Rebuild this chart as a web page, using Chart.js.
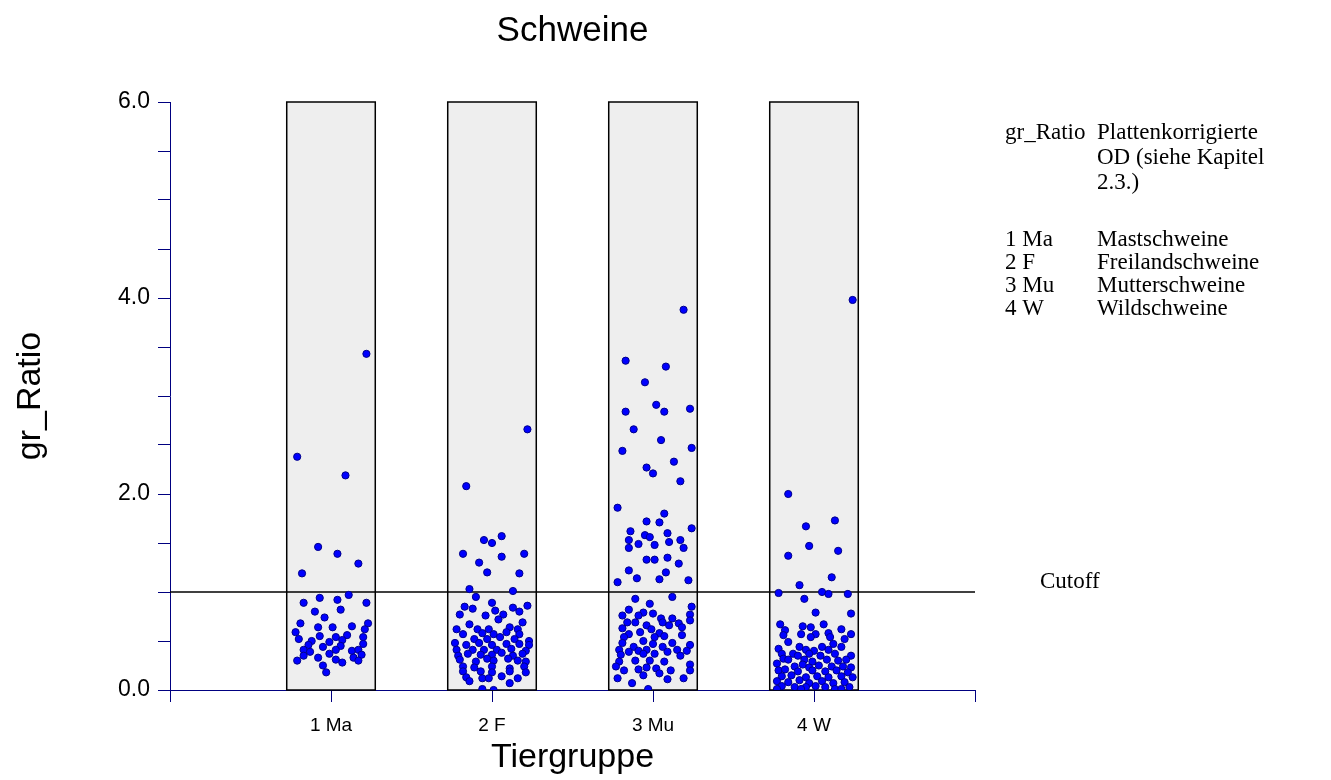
<!DOCTYPE html>
<html>
<head>
<meta charset="utf-8">
<title>Schweine</title>
<script src="https://cdn.jsdelivr.net/npm/chart.js@4.4.1/dist/chart.umd.min.js"></script>
<style>
    html, body { margin: 0; padding: 0; background: #fff; }
    #wrap { width: 1331px; height: 780px; }
</style>
</head>
<body>
<div id="wrap"><canvas id="chart" width="1331" height="780"></canvas></div>
<script>
// ===== Data =====
const groupLabels = ["1 Ma", "2 F", "3 Mu", "4 W"];
const yTickLabels = ["0.0", "2.0", "4.0", "6.0"];
const boxTop = [6, 6, 6, 6];
const boxHalfWidth = 0.275;
const cutoffValue = 1.0;

// [jitter offset from group centre, gr_Ratio]
const maPoints = [
    [0.22, 3.43], [-0.21, 2.38], [0.09, 2.19], [-0.08, 1.46], [0.04, 1.39], [0.17, 1.29], [-0.18, 1.19],
    [0.11, 0.97], [-0.07, 0.94], [0.04, 0.92], [-0.17, 0.89], [0.22, 0.89], [0.06, 0.82], [-0.10, 0.80],
    [-0.04, 0.74], [-0.19, 0.68], [0.23, 0.68], [-0.08, 0.64], [0.01, 0.64], [0.13, 0.65], [0.21, 0.62],
    [-0.22, 0.59], [0.10, 0.56], [-0.07, 0.55], [-0.20, 0.52], [0.03, 0.54], [0.20, 0.54], [-0.12, 0.50],
    [0.07, 0.51], [-0.01, 0.49], [-0.14, 0.46], [0.20, 0.47], [-0.05, 0.44], [0.06, 0.45], [-0.17, 0.41],
    [0.03, 0.41], [-0.13, 0.39], [0.13, 0.40], [0.17, 0.41], [-0.01, 0.37], [-0.17, 0.35], [0.19, 0.36],
    [0.14, 0.33], [-0.08, 0.33], [-0.21, 0.30], [0.03, 0.31], [0.17, 0.30], [0.07, 0.28], [-0.05, 0.25],
    [-0.03, 0.18]
];
const fPoints = [
    [0.22, 2.66], [-0.16, 2.08], [0.06, 1.57], [-0.05, 1.53], [0.00, 1.50], [-0.18, 1.39], [0.20, 1.39],
    [0.06, 1.36], [-0.08, 1.30], [-0.03, 1.20], [0.17, 1.19], [-0.14, 1.03], [0.13, 1.01], [-0.10, 0.95],
    [0.00, 0.89], [-0.17, 0.85], [-0.12, 0.83], [0.13, 0.84], [0.22, 0.86], [0.17, 0.80], [0.02, 0.81],
    [-0.20, 0.77], [-0.04, 0.76], [0.07, 0.77], [0.04, 0.72], [0.19, 0.69], [-0.14, 0.67], [-0.22, 0.62],
    [-0.09, 0.62], [-0.02, 0.62], [0.11, 0.64], [0.16, 0.62], [-0.18, 0.57], [-0.06, 0.58], [0.01, 0.57],
    [0.09, 0.59], [0.17, 0.57], [-0.11, 0.52], [-0.03, 0.52], [0.05, 0.54], [0.14, 0.52], [0.23, 0.50],
    [-0.23, 0.48], [-0.16, 0.46], [-0.08, 0.48], [0.00, 0.46], [0.09, 0.47], [0.17, 0.47], [0.23, 0.46],
    [-0.22, 0.41], [-0.12, 0.41], [-0.05, 0.41], [0.03, 0.41], [0.12, 0.42], [0.21, 0.40], [-0.21, 0.35],
    [-0.15, 0.37], [-0.07, 0.36], [0.00, 0.36], [0.06, 0.38], [0.13, 0.35], [0.19, 0.37], [-0.20, 0.31],
    [-0.10, 0.29], [-0.03, 0.32], [0.01, 0.30], [0.10, 0.32], [0.16, 0.30], [0.21, 0.29], [-0.18, 0.24],
    [-0.11, 0.23], [0.00, 0.24], [0.11, 0.22], [0.20, 0.24], [-0.18, 0.19], [-0.07, 0.19], [0.00, 0.18],
    [0.11, 0.19], [0.21, 0.18], [-0.16, 0.13], [-0.06, 0.12], [-0.02, 0.12], [0.06, 0.14], [0.16, 0.12],
    [-0.14, 0.09], [0.11, 0.07], [-0.06, 0.01], [0.01, 0.00]
];
const muPoints = [
    [0.19, 3.88], [-0.17, 3.36], [0.08, 3.30], [-0.05, 3.14], [0.02, 2.91], [-0.17, 2.84], [0.07, 2.84],
    [0.23, 2.87], [-0.12, 2.66], [0.05, 2.55], [-0.19, 2.44], [0.24, 2.47], [0.13, 2.33], [-0.04, 2.27],
    [0.00, 2.21], [0.17, 2.13], [-0.22, 1.86], [0.07, 1.80], [-0.04, 1.72], [0.04, 1.71], [0.24, 1.65],
    [-0.14, 1.62], [0.09, 1.60], [-0.05, 1.58], [-0.02, 1.56], [-0.15, 1.53], [0.17, 1.53], [0.10, 1.51],
    [-0.09, 1.49], [0.01, 1.48], [-0.15, 1.45], [0.19, 1.45], [0.09, 1.35], [-0.04, 1.33], [0.01, 1.33],
    [0.16, 1.29], [-0.15, 1.22], [0.08, 1.20], [-0.10, 1.14], [0.04, 1.13], [-0.22, 1.10], [0.22, 1.12],
    [-0.11, 0.93], [0.12, 0.95], [-0.02, 0.88], [-0.15, 0.82], [0.24, 0.85], [-0.06, 0.79], [-0.19, 0.76],
    [-0.09, 0.76], [0.00, 0.78], [0.23, 0.77], [0.05, 0.73], [0.12, 0.73], [-0.16, 0.69], [-0.11, 0.69],
    [0.06, 0.69], [0.16, 0.68], [0.23, 0.71], [-0.04, 0.66], [0.10, 0.66], [-0.19, 0.63], [-0.01, 0.62],
    [0.18, 0.64], [-0.08, 0.59], [0.04, 0.58], [-0.15, 0.57], [-0.18, 0.54], [0.01, 0.54], [0.07, 0.55],
    [0.18, 0.56], [-0.06, 0.50], [0.12, 0.48], [0.23, 0.46], [-0.19, 0.48], [0.00, 0.47], [-0.12, 0.44],
    [0.06, 0.44], [-0.21, 0.41], [-0.04, 0.41], [0.15, 0.41], [0.21, 0.40], [-0.15, 0.39], [-0.09, 0.40],
    [0.09, 0.39], [-0.20, 0.36], [-0.06, 0.37], [0.01, 0.37], [0.17, 0.35], [-0.11, 0.30], [-0.02, 0.30],
    [0.07, 0.29], [-0.21, 0.29], [0.23, 0.26], [-0.23, 0.24], [-0.09, 0.21], [-0.04, 0.23], [0.02, 0.22],
    [0.11, 0.20], [-0.18, 0.20], [0.23, 0.20], [-0.06, 0.15], [0.04, 0.17], [-0.22, 0.12], [0.09, 0.11],
    [0.19, 0.12], [-0.13, 0.07], [-0.03, 0.01]
];
const wPoints = [
    [0.24, 3.98], [-0.16, 2.00], [0.13, 1.73], [-0.05, 1.67], [-0.03, 1.47], [0.15, 1.42], [-0.16, 1.37],
    [0.11, 1.15], [-0.09, 1.07], [-0.22, 0.99], [0.05, 1.00], [0.09, 0.98], [0.21, 0.98], [-0.06, 0.93],
    [0.01, 0.79], [0.23, 0.78], [-0.21, 0.67], [-0.07, 0.65], [-0.02, 0.64], [0.06, 0.67], [0.17, 0.62],
    [-0.18, 0.61], [-0.08, 0.57], [0.01, 0.57], [0.09, 0.58], [0.23, 0.57], [-0.19, 0.56], [-0.02, 0.54],
    [0.10, 0.54], [0.19, 0.52], [-0.16, 0.49], [0.12, 0.47], [-0.09, 0.44], [0.05, 0.44], [-0.22, 0.42],
    [-0.05, 0.41], [0.00, 0.40], [0.09, 0.41], [0.17, 0.44], [-0.20, 0.37], [-0.13, 0.37], [-0.10, 0.35],
    [-0.03, 0.37], [0.04, 0.35], [0.13, 0.37], [0.23, 0.35], [-0.19, 0.32], [-0.16, 0.31], [-0.06, 0.31],
    [-0.01, 0.29], [0.08, 0.31], [0.15, 0.30], [0.20, 0.31], [-0.23, 0.27], [-0.12, 0.24], [-0.07, 0.26],
    [-0.03, 0.23], [0.03, 0.25], [0.11, 0.24], [0.18, 0.24], [0.23, 0.23], [-0.22, 0.20], [-0.18, 0.21],
    [-0.10, 0.19], [-0.01, 0.20], [0.07, 0.19], [0.14, 0.20], [0.21, 0.18], [-0.20, 0.14], [-0.14, 0.15],
    [-0.05, 0.13], [0.02, 0.14], [0.09, 0.13], [0.17, 0.14], [0.24, 0.13], [-0.23, 0.09], [-0.16, 0.08],
    [-0.09, 0.10], [-0.03, 0.07], [0.05, 0.09], [0.12, 0.07], [0.19, 0.08], [-0.20, 0.04], [-0.12, 0.03],
    [-0.05, 0.03], [0.01, 0.04], [0.07, 0.03], [0.13, 0.01], [0.22, 0.03], [-0.23, 0.01], [-0.08, 0.01],
    [0.17, 0.01]
];

const chartTitle = "Schweine";
const xTitle = "Tiergruppe";
const yTitle = "gr_Ratio";
const noteRows = [
    ["gr_Ratio", "Plattenkorrigierte"],
    ["", "OD (siehe Kapitel"],
    ["", "2.3.)"],
    ["1 Ma", "Mastschweine"],
    ["2 F", "Freilandschweine"],
    ["3 Mu", "Mutterschweine"],
    ["4 W", "Wildschweine"]
];
const cutoffLabel = "Cutoff";

// ===== Build datasets =====
const allGroups = [maPoints, fPoints, muPoints, wPoints];
const scatterData = [];
allGroups.forEach((pts, i) => {
    pts.forEach(p => scatterData.push({ x: i + 1 + p[0], y: p[1] }));
});

const AXIS_BLUE = "#000080";
const SANS = "'Liberation Sans', Arial, sans-serif";
const SERIF = "'Liberation Serif', 'Times New Roman', serif";

// grey group boxes behind the points
const boxPlugin = {
    id: "groupBoxes",
    beforeDatasetsDraw(chart) {
        const { ctx, scales: { x, y } } = chart;
        ctx.save();
        boxTop.forEach((top, i) => {
            const l = x.getPixelForValue(i + 1 - boxHalfWidth);
            const r = x.getPixelForValue(i + 1 + boxHalfWidth);
            const t = y.getPixelForValue(top);
            const b = y.getPixelForValue(0);
            ctx.fillStyle = "#eeeeee";
            ctx.fillRect(l, t, r - l, b - t);
            ctx.strokeStyle = "#000";
            ctx.lineWidth = 1.5;
            ctx.strokeRect(l, t, r - l, b - t);
        });
        ctx.restore();
    }
};

// title, axis titles, side notes, cutoff label
const textPlugin = {
    id: "sideTexts",
    afterDraw(chart) {
        const { ctx, chartArea: a } = chart;
        const midX = (a.left + a.right) / 2;
        ctx.save();
        ctx.fillStyle = "#000";
        ctx.textBaseline = "middle";
        ctx.textAlign = "center";

        ctx.font = "35px " + SANS;
        ctx.fillText(chartTitle, midX, 31);

        ctx.font = "34px " + SANS;
        ctx.fillText(xTitle, midX, 758);

        ctx.save();
        ctx.translate(31, (a.top + a.bottom) / 2);
        ctx.rotate(-Math.PI / 2);
        ctx.fillText(yTitle, 0, 0);
        ctx.restore();

        ctx.textAlign = "left";
        ctx.font = "23px " + SERIF;
        const rowY = [133, 158, 183, 240, 263, 286, 309];
        noteRows.forEach((row, i) => {
            ctx.fillText(row[0], a.right + 30, rowY[i]);
            ctx.fillText(row[1], a.right + 122, rowY[i]);
        });
        ctx.fillText(cutoffLabel, a.right + 65, chart.scales.y.getPixelForValue(cutoffValue) - 10);
        ctx.restore();
    }
};

new Chart(document.getElementById("chart").getContext("2d"), {
    type: "scatter",
    data: {
        datasets: [
            {
                label: "gr_Ratio",
                data: scatterData,
                backgroundColor: "#0000ff",
                borderColor: "#00008b",
                borderWidth: 1,
                pointRadius: 3.6,
                order: 1
            },
            {
                type: "line",
                label: "Cutoff",
                data: [{ x: 0, y: cutoffValue }, { x: 5, y: cutoffValue }],
                borderColor: "#000",
                borderWidth: 1.5,
                pointRadius: 0,
                fill: false,
                order: 2
            }
        ]
    },
    options: {
        responsive: false,
        animation: false,
        events: [],
        layout: { padding: { top: 102, right: 356, bottom: 0, left: 0 } },
        plugins: { legend: { display: false }, tooltip: { enabled: false } },
        scales: {
            x: {
                type: "linear",
                min: 0,
                max: 5,
                afterFit(scale) { scale.height = 90; },
                border: { display: true, color: AXIS_BLUE, width: 1 },
                grid: { drawOnChartArea: false, drawTicks: true, tickLength: 12, color: AXIS_BLUE },
                ticks: {
                    stepSize: 1,
                    autoSkip: false,
                    maxRotation: 0,
                    padding: 12,
                    color: "#000",
                    font: { family: SANS, size: 19 },
                    callback: v => groupLabels[v - 1] || ""
                }
            },
            y: {
                min: 0,
                max: 6,
                afterFit(scale) { scale.width = 170; },
                border: { display: true, color: AXIS_BLUE, width: 1 },
                grid: { drawOnChartArea: false, drawTicks: true, tickLength: 12, color: AXIS_BLUE },
                ticks: {
                    stepSize: 0.5,
                    autoSkip: false,
                    padding: 8,
                    color: "#000",
                    font: { family: SANS, size: 23 },
                    callback: v => (v % 2 === 0 ? yTickLabels[v / 2] : "")
                }
            }
        }
    },
    plugins: [boxPlugin, textPlugin]
});
</script>
</body>
</html>
